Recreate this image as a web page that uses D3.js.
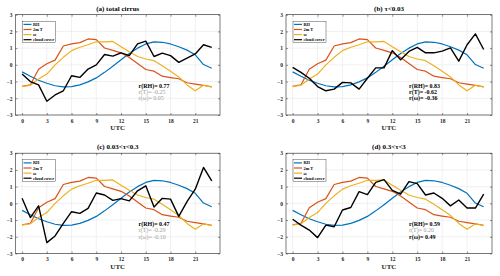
<!DOCTYPE html>
<html><head><meta charset="utf-8">
<script src="https://cdn.jsdelivr.net/npm/d3@7"></script>
<style>body{margin:0;background:#fff}svg{display:block}</style>
</head><body>
<svg id="c" width="500" height="276"></svg>
<script>
const hours = d3.range(0, 24);
const xTicks = [0, 3, 6, 9, 12, 15, 18, 21];
const yTicks = [-3, -2, -1, 0, 1, 2, 3];
const seriesNames = ["RH", "2m T", "\u03c9", "cloud cover"];
const seriesColors = ["#0072BD", "#D95319", "#EDB120", "#000000"];
const titles = ["(a) total cirrus", "(b) \u03c4<0.03", "(c) 0.03<\u03c4<0.3", "(d) 0.3<\u03c4<3"];

const rh = [-0.42,-0.68,-0.92,-1.1,-1.25,-1.32,-1.3,-1.2,-1.02,-0.78,-0.45,-0.08,0.3,0.68,1.0,1.25,1.37,1.35,1.25,1.08,0.88,0.6,0.02,-0.2];
const t2m = [-1.28,-1.2,-0.26,0.07,0.28,1.13,1.25,1.33,1.55,1.51,1.01,0.87,0.72,0.44,0.08,-0.28,-0.38,-0.68,-0.76,-0.83,-1.07,-1.15,-1.23,-1.31];
const omega = [-1.3,-1.22,-0.85,-0.55,0.0,0.45,0.85,1.05,1.2,1.38,1.38,1.4,1.08,0.78,0.5,0.35,0.25,-0.05,-0.38,-0.72,-1.2,-1.55,-1.22,-1.33];

const ccA = [-0.55,-1.0,-1.2,-2.18,-1.8,-1.55,-0.65,-0.75,-0.25,0.0,0.62,0.52,0.72,0.55,1.25,1.42,0.5,0.7,0.55,0.15,0.4,0.65,1.2,1.05];
const ccB = [-0.15,-0.45,-0.8,-1.3,-1.55,-1.45,-1.05,-1.08,-1.45,-0.8,-0.18,-0.18,0.85,0.3,0.8,1.05,0.72,0.72,0.82,1.02,0.22,1.2,1.85,0.92];
const ccC = [0.3,-0.85,-0.15,-2.35,-1.95,-1.2,-0.5,-0.6,-0.3,0.62,0.5,0.18,0.28,0.15,0.75,1.05,-0.22,0.3,0.25,-0.78,0.1,0.85,2.15,1.35];
const ccD = [-0.95,-1.3,-1.6,-2.05,-1.3,-1.4,-0.4,-0.25,0.7,0.52,1.25,1.42,0.78,0.55,1.3,1.18,0.5,0.62,0.3,-0.15,0.2,-0.28,-0.28,0.55];
const cloudCover = [ccA, ccB, ccC, ccD];

const corrLabels = [["r(RH)= 0.77","r(T)= -0.25","r(\u03c9)= 0.05"],
                    ["r(RH)= 0.83","r(T)= -0.62","r(\u03c9)= -0.36"],
                    ["r(RH)= 0.47","r(T)= -0.29","r(\u03c9)= -0.10"],
                    ["r(RH)= 0.59","r(T)= 0.20","r(\u03c9)= 0.49"]];
const corrBold = [[true,false,false],[true,true,true],[true,false,false],[true,false,true]];

const svg = d3.select("#c");
const font = "'Liberation Serif','Times New Roman',serif";
const panels = [
  {x0: 15.5, x1: 220, y0: 14.7, y1: 115},
  {x0: 286, x1: 492, y0: 14.7, y1: 115},
  {x0: 15.5, x1: 220, y0: 153.2, y1: 253.5},
  {x0: 286, x1: 492, y0: 153.2, y1: 253.5}
];

panels.forEach((p, i) => {
  const g = svg.append("g");
  const x = d3.scaleLinear().domain([-0.8, 24]).range([p.x0, p.x1]);
  const y = d3.scaleLinear().domain([-3, 3]).range([p.y1, p.y0]);
  g.selectAll(".gx").data(xTicks).join("line")
    .attr("x1", d => x(d)).attr("x2", d => x(d)).attr("y1", p.y0).attr("y2", p.y1)
    .attr("stroke", "#e3e3e3").attr("stroke-width", 0.5);
  g.selectAll(".gy").data(yTicks).join("line")
    .attr("y1", d => y(d)).attr("y2", d => y(d)).attr("x1", p.x0).attr("x2", p.x1)
    .attr("stroke", "#e3e3e3").attr("stroke-width", 0.5);
  const ax = g.append("g").attr("transform", `translate(0,${p.y1})`)
    .call(d3.axisBottom(x).tickValues(xTicks).tickFormat(d3.format("d")).tickSize(-2).tickPadding(4).tickSizeOuter(0));
  const ay = g.append("g").attr("transform", `translate(${p.x0},0)`)
    .call(d3.axisLeft(y).tickValues(yTicks).tickFormat(d3.format("d")).tickSize(-2).tickPadding(3).tickSizeOuter(0));
  [ax, ay].forEach(a => {
    a.select(".domain").remove();
    a.selectAll("line").attr("stroke", "#262626").attr("stroke-width", 0.5);
    a.selectAll("text").attr("font-family", font).attr("font-size", 5.5)
      .attr("font-weight", "bold").attr("fill", "#262626");
  });
  g.append("g").attr("transform", `translate(0,${p.y0})`)
    .call(d3.axisTop(x).tickValues(xTicks).tickSize(-2).tickFormat("").tickSizeOuter(0))
    .call(a => { a.select(".domain").remove(); a.selectAll("line").attr("stroke", "#262626").attr("stroke-width", 0.5); });
  g.append("g").attr("transform", `translate(${p.x1},0)`)
    .call(d3.axisRight(y).tickValues(yTicks).tickSize(-2).tickFormat("").tickSizeOuter(0))
    .call(a => { a.select(".domain").remove(); a.selectAll("line").attr("stroke", "#262626").attr("stroke-width", 0.5); });
  g.append("rect").attr("x", p.x0).attr("y", p.y0).attr("width", p.x1 - p.x0).attr("height", p.y1 - p.y0)
    .attr("fill", "none").attr("stroke", "#262626").attr("stroke-width", 0.6);
  const line = d3.line().x((d, k) => x(hours[k])).y(d => y(d));
  const data = [rh, t2m, omega, cloudCover[i]];
  data.forEach((s, k) => {
    g.append("path").datum(s).attr("d", line).attr("fill", "none")
      .attr("stroke", seriesColors[k]).attr("stroke-width", k === 3 ? 1.4 : 1.2)
      .attr("stroke-linejoin", "round");
  });
  g.append("text").attr("x", (p.x0 + p.x1) / 2).attr("y", p.y0 - 4)
    .attr("text-anchor", "middle").attr("font-family", font).attr("font-size", 7)
    .attr("font-weight", "bold").attr("fill", "#000").text(titles[i]);
  g.append("text").attr("x", (p.x0 + p.x1) / 2).attr("y", p.y1 + 15)
    .attr("text-anchor", "middle").attr("font-family", font).attr("font-size", 7)
    .attr("font-weight", "bold").attr("fill", "#262626").text("UTC");
  const lx = p.x0 + 7, ly = p.y0 + 6.5;
  g.append("rect").attr("x", lx).attr("y", ly).attr("width", 33).attr("height", 21.5)
    .attr("fill", "#fff").attr("stroke", "#262626").attr("stroke-width", 0.4);
  seriesNames.forEach((n, k) => {
    const yy = ly + 3.2 + k * 5.1;
    g.append("line").attr("x1", lx + 1).attr("x2", lx + 9).attr("y1", yy).attr("y2", yy)
      .attr("stroke", seriesColors[k]).attr("stroke-width", 1.2);
    g.append("text").attr("x", lx + 10.5).attr("y", yy + 1.5).attr("font-family", font)
      .attr("font-size", 4.3).attr("font-weight", "bold").attr("fill", "#000").text(n);
  });
  corrLabels[i].forEach((t, k) => {
    g.append("text").attr("x", p.x0 + 123).attr("y", p.y0 + 73 + k * 6.2)
      .attr("font-family", font).attr("font-size", 6)
      .attr("font-weight", corrBold[i][k] ? "bold" : "normal")
      .attr("fill", corrBold[i][k] ? "#000" : "#a0a0a0").text(t);
  });
});
</script>
</body></html>
